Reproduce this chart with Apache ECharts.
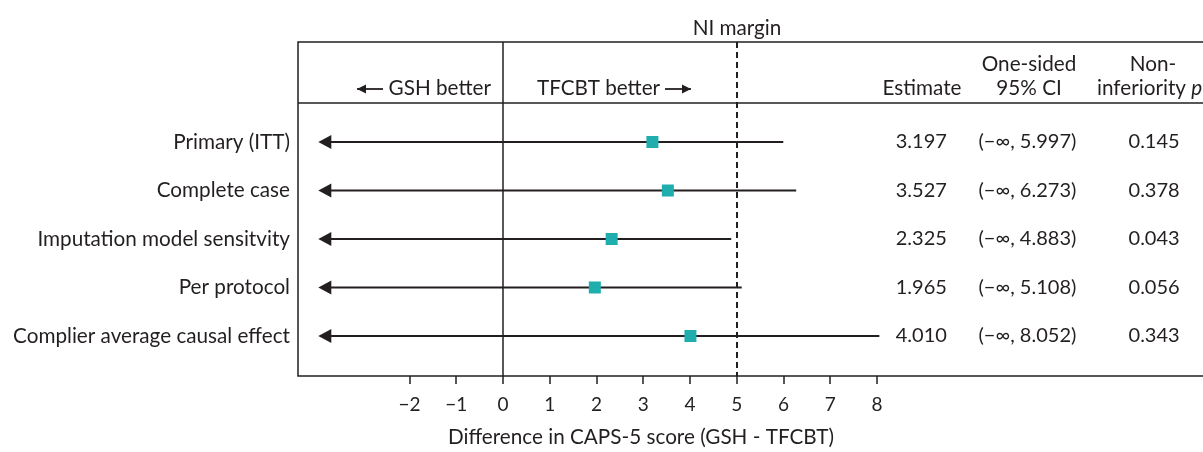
<!DOCTYPE html>
<html>
<head>
<meta charset="utf-8">
<title>Non-inferiority forest plot</title>
<script src="https://cdn.jsdelivr.net/npm/echarts@6/dist/echarts.min.js"></script>
<style>
  html, body {margin: 0; padding: 0; background: #fff;}
  #main {width: 1203px; height: 452px;}
</style>
</head>
<body>
<div id="main"></div>
<script>
// data
var analyses = ['Primary (ITT)', 'Complete case', 'Imputation model sensitvity', 'Per protocol', 'Complier average causal effect'];
var estimates = [3.197, 3.527, 2.325, 1.965, 4.010];
var upperCI = [5.997, 6.273, 4.883, 5.108, 8.052];
var pValues = ['0.145', '0.378', '0.043', '0.056', '0.343'];
var xTicks = [-2, -1, 0, 1, 2, 3, 4, 5, 6, 7, 8];
var niMargin = 5;
var arrowEnd = -3.95; // one-sided CI runs off towards -inf

var ink = '#231f20';
var teal = '#1fadad';
var fontFam = 'Lato, "Noto Sans", sans-serif';
var fnt = '20.7px ' + fontFam;
var numFnt = '20px ' + fontFam;

// table columns, in axis units (they sit right of the plot)
var colEstimate = 8.95, colCI = 11.22, colP = 13.93;
var headerLine = 0.196;

var rows = analyses.map(function (n, i) {
    return [estimates[i], i + 1, upperCI[i]];
});

function minus(s) { return String(s).replace('-', '\u2212'); }

function renderRow(params, api) {
    var est = api.value(0), row = api.value(1), hi = api.value(2);
    var pLo = api.coord([arrowEnd, row]);
    var pHi = api.coord([hi, row]);
    var pEst = api.coord([est, row]);
    var i = params.dataIndex;
    var txt = function (v, text) {
        var p = api.coord([v, row]);
        return {type: 'text', x: p[0], y: p[1],
            style: {text: text, font: numFnt, fill: ink, textAlign: 'center', textVerticalAlign: 'middle'}};
    };
    return {type: 'group', children: [
        {type: 'line', shape: {x1: pLo[0] + 8, y1: pLo[1], x2: pHi[0], y2: pHi[1]},
            style: {stroke: ink, lineWidth: 2}},
        {type: 'polygon', shape: {points: [[pLo[0], pLo[1]], [pLo[0] + 13, pLo[1] - 7], [pLo[0] + 13, pLo[1] + 7]]},
            style: {fill: ink}},
        {type: 'rect', shape: {x: pEst[0] - 6, y: pEst[1] - 6, width: 12, height: 12},
            style: {fill: teal}},
        txt(colEstimate, estimates[i].toFixed(3)),
        txt(colCI, '(\u2212\u221e, ' + upperCI[i].toFixed(3) + ')'),
        txt(colP, pValues[i])
    ]};
}

function head(x, y, text, align) {
    return {type: 'text', x: x, y: y,
        style: {text: text, font: fnt, fill: ink, textAlign: align || 'center', textVerticalAlign: 'middle'}};
}

// small header arrow, dir -1 = left, 1 = right
function hArrow(x0, x1, y, dir) {
    var tip = dir < 0 ? x0 : x1;
    return {type: 'group', children: [
        {type: 'line', shape: {x1: x0, y1: y, x2: x1, y2: y}, style: {stroke: ink, lineWidth: 1.8}},
        {type: 'polygon', shape: {points: [[tip, y], [tip - dir * 9, y - 4.5], [tip - dir * 9, y + 4.5]]}, style: {fill: ink}}
    ]};
}

var myChart = echarts.init(document.getElementById('main'));
var option = {
    animation: false,
    textStyle: {fontFamily: fontFam, color: ink},
    grid: {
        left: 298, right: -10, top: 42, bottom: 76,
        show: true, borderColor: ink, borderWidth: 1.5,
        containLabel: false, outerBoundsMode: 'none'
    },
    xAxis: {
        type: 'value', min: -4.385, max: 15.19,
        axisLine: {show: false, onZero: false},
        splitLine: {show: false},
        axisTick: {show: true, customValues: xTicks, length: 8, lineStyle: {color: ink, width: 1.5}},
        axisLabel: {customValues: xTicks, color: ink, fontSize: 19, fontFamily: fontFam, margin: 19,
            formatter: function (v) { return minus(v); }}
    },
    yAxis: {
        type: 'value', inverse: true, min: -1.062, max: 5.825,
        axisLine: {show: false, onZero: false}, axisTick: {show: false}, splitLine: {show: false},
        axisLabel: {customValues: [1, 2, 3, 4, 5], color: ink, fontSize: 20.7, fontFamily: fontFam, margin: 8,
            formatter: function (v) { return analyses[Math.round(v) - 1]; }}
    },
    graphic: [
        head(737, 28, 'NI margin'),
        hArrow(357, 383, 89, -1),
        head(491, 88, 'GSH better', 'right'),
        head(537, 88, 'TFCBT better', 'left'),
        hArrow(665, 691, 89, 1),
        head(922, 88, 'Estimate'),
        head(1029, 64, 'One-sided'),
        head(1029, 88, '95% CI'),
        head(1153, 64, 'Non-'),
        {type: 'text', x: 1097, y: 88, style: {text: '{a|inferiority }{b|p}', font: fnt, fill: ink, textAlign: 'left', textVerticalAlign: 'middle',
            rich: {a: {fontSize: 20.7, fontFamily: fontFam, color: ink}, b: {fontSize: 20.7, fontFamily: fontFam, color: ink, fontStyle: 'italic'}}}},
        head(641, 437, 'Difference in CAPS-5 score (GSH - TFCBT)')
    ],
    series: [{
        type: 'custom',
        renderItem: renderRow,
        data: rows,
        encode: {x: [0, 2], y: 1},
        clip: false,
        markLine: {
            silent: true, symbol: ['none', 'none'], label: {show: false},
            data: [
                {xAxis: 0, lineStyle: {color: ink, width: 1.5, type: 'solid'}},
                {xAxis: niMargin, lineStyle: {color: ink, width: 2, type: [6, 4]}},
                {yAxis: headerLine, lineStyle: {color: ink, width: 1.5, type: 'solid'}}
            ]
        }
    }]
};
myChart.setOption(option);
</script>
</body>
</html>
